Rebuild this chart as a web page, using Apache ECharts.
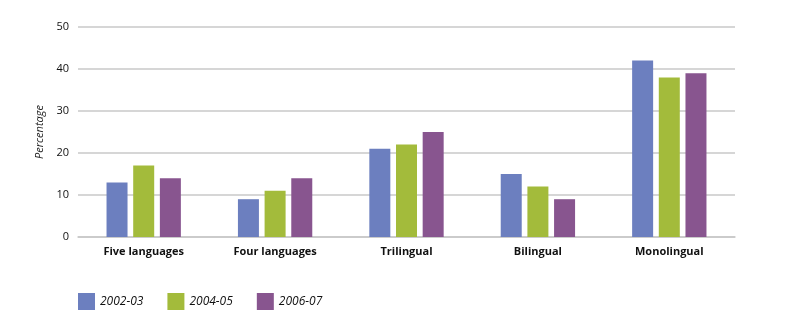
<!DOCTYPE html>
<html>
<head>
<meta charset="utf-8">
<style>
  html, body { margin: 0; padding: 0; background: #ffffff; }
  #chart { width: 800px; height: 327px; }
</style>
<script src="https://cdn.jsdelivr.net/npm/echarts@6/dist/echarts.min.js"></script>
</head>
<body>
<div id="chart"></div>
<script>
// Share of students by number of languages studied
const categories = ['Five languages', 'Four languages', 'Trilingual', 'Bilingual', 'Monolingual'];
const seriesNames = ['2002-03', '2004-05', '2006-07'];
const values2002 = [13, 9, 21, 15, 42];
const values2004 = [17, 11, 22, 12, 38];
const values2006 = [14, 14, 25, 9, 39];
const yTicks = [0, 10, 20, 30, 40, 50];

const colors = ['#6c7fbf', '#a3bb3b', '#88558f'];
const FONT = 'Open Sans';

const chart = echarts.init(document.getElementById('chart'), null, { renderer: 'canvas' });

const seriesData = [values2002, values2004, values2006];

chart.setOption({
  animation: false,
  textStyle: { fontFamily: FONT },
  grid: { left: 78, right: 65, top: 27, bottom: 90, containLabel: false },
  legend: {
    left: 73,
    top: 288,
    itemWidth: 17,
    itemHeight: 17,
    itemGap: 24,
    icon: 'rect',
    data: seriesNames,
    textStyle: { fontFamily: FONT, fontStyle: 'italic', fontSize: 12, color: '#111' }
  },
  xAxis: {
    type: 'category',
    data: categories,
    axisTick: { show: false },
    axisLine: { show: true, lineStyle: { color: '#c8c8c8', width: 1.5 } },
    axisLabel: { fontFamily: FONT, fontWeight: 'bold', fontSize: 11, color: '#111', margin: 9 }
  },
  yAxis: {
    type: 'value',
    min: yTicks[0],
    max: yTicks[yTicks.length - 1],
    interval: 10,
    name: 'Percentage',
    nameLocation: 'middle',
    nameGap: 32,
    nameRotate: 90,
    nameTextStyle: { fontFamily: FONT, fontStyle: 'italic', fontSize: 11, color: '#222' },
    axisLine: { show: false },
    axisTick: { show: false },
    axisLabel: { fontFamily: FONT, fontSize: 11, color: '#111', margin: 9 },
    splitLine: { lineStyle: { color: '#c8c8c8', width: 1.5 } }
  },
  series: seriesNames.map((name, i) => ({
    name,
    type: 'bar',
    data: seriesData[i],
    barWidth: 21,
    barGap: '27%',
    itemStyle: { color: colors[i] }
  }))
});
</script>
</body>
</html>
